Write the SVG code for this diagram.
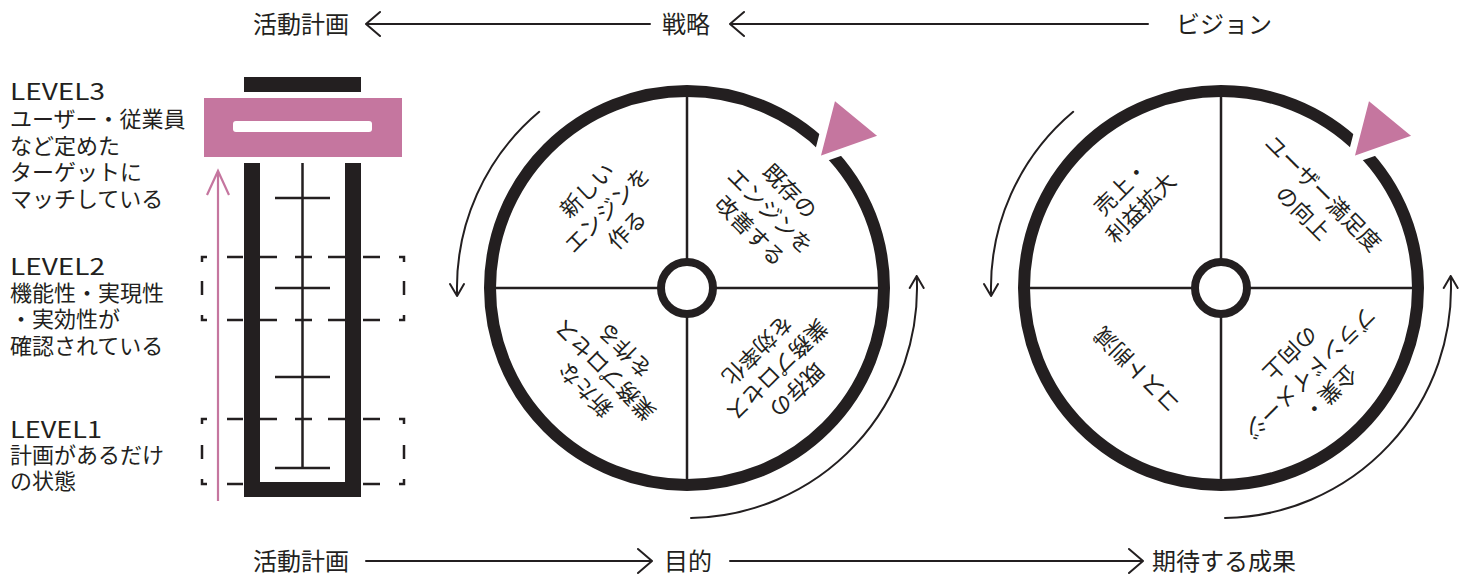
<svg xmlns="http://www.w3.org/2000/svg" width="1473" height="577" viewBox="0 0 1473 577">
  <defs>
    <style>
      .t{font-family:"Noto Sans CJK JP","Noto Sans",sans-serif;fill:#231f20}
      .lbl{font-size:22px}
      .lv{font-size:23px}
      .cap{font-size:24px}
      .q{font-size:22px;text-anchor:middle}
      .ln{stroke:#231f20;stroke-width:2.5;fill:none}
      .thin{stroke:#231f20;stroke-width:2;fill:none;stroke-linecap:round;stroke-linejoin:round}
      .dash{stroke:#231f20;stroke-width:2.5;fill:none}
      .ring{fill:none;stroke:#231f20;stroke-width:12}
      .hub{fill:#fff;stroke:#231f20;stroke-width:8}
      .bar{fill:#231f20}
      .pink{fill:#c5769f}
      .tri{fill:#c5769f;stroke:#fff;stroke-width:7;stroke-linejoin:miter}
    </style>
  </defs>
  <rect width="1473" height="577" fill="#fff"/>

  <!-- level descriptions -->
  <g id="level3-label">
    <text class="t lbl"><tspan class="lv" x="10" y="100" textLength="95" lengthAdjust="spacingAndGlyphs">LEVEL3</tspan><tspan x="10" y="127">ユーザー・従業員</tspan><tspan x="10" y="153.5">など定めた</tspan><tspan x="10" y="180">ターゲットに</tspan><tspan x="10" y="206.5">マッチしている</tspan></text>
  </g>
  <g id="level2-label">
    <text class="t lbl"><tspan class="lv" x="10" y="275" textLength="95" lengthAdjust="spacingAndGlyphs">LEVEL2</tspan><tspan x="10" y="301">機能性・実現性</tspan><tspan x="10" y="327">・実効性が</tspan><tspan x="10" y="354">確認されている</tspan></text>
  </g>
  <g id="level1-label">
    <text class="t lbl"><tspan class="lv" x="10" y="438" textLength="92" lengthAdjust="spacingAndGlyphs">LEVEL1</tspan><tspan x="10" y="463">計画があるだけ</tspan><tspan x="10" y="489">の状態</tspan></text>
  </g>

  <!-- level gauge -->
  <g id="gauge">
    <path class="dash" d="M202,262V257H207 M227,257H243 M260,257H277 M295,257H312 M328,257H345 M363,257H380 M399,257H404V262 M202,281V295 M404,281V295 M202,315V320H207 M227,320H243 M260,320H277 M295,320H312 M328,320H345 M363,320H380 M399,320H404V315"/>
    <path class="dash" d="M202,424V419H207 M227,419H243 M260,419H277 M295,419H312 M328,419H345 M363,419H380 M399,419H404V424 M202,445V459 M404,445V459 M202,479V484H207 M227,484H243 M260,484H277 M295,484H312 M328,484H345 M363,484H380 M399,484H404V479"/>
    <rect class="bar" x="244" y="77" width="117" height="15"/>
    <rect class="pink" x="204" y="98" width="198" height="59"/>
    <rect x="233" y="121" width="139" height="11" rx="3" fill="#fff"/>
    <path class="bar" d="M244,163H260V482H345V163H361V497H244Z"/>
    <path class="ln" d="M302.5,163V468 M275,198H330 M275,288H330 M275,377H330 M275,468H330"/>
    <path d="M218,501V172 M207,195L218,171L229,195" fill="none" stroke="#c5769f" stroke-width="2.2"/>
  </g>

  <!-- strategy wheel -->
  <g id="wheel-strategy" transform="translate(687,288)">
    <circle class="ring" r="197"/>
    <polygon class="tri" points="129,-127 146,-193 197,-151"/>
    <path class="ln" d="M0,-192V192 M-192,0H192"/>
    <circle class="hub" r="26"/>
  </g>
  <g id="q-new-engine" class="t q" transform="translate(607,210) rotate(-45)">
    <text y="-20">新しい</text>
    <text y="8">エンジンを</text>
    <text y="36">作る</text>
  </g>
  <g id="q-improve-engine" class="t q" transform="translate(770,211) rotate(45)">
    <text y="-20">既存の</text>
    <text y="8">エンジンを</text>
    <text y="36">改善する</text>
  </g>
  <g id="q-new-process" class="t q" transform="translate(605,370) rotate(-135)">
    <text y="-20">新たな</text>
    <text y="8">業務プロセス</text>
    <text y="36">を作る</text>
  </g>
  <g id="q-efficient-process" class="t q" transform="translate(777,370) rotate(135)">
    <text y="-20">既存の</text>
    <text y="8">業務プロセス</text>
    <text y="36">を効率化</text>
  </g>

  <!-- outcome wheel -->
  <g id="wheel-outcome" transform="translate(1221,288)">
    <circle class="ring" r="197"/>
    <polygon class="tri" points="129,-127 146,-193 197,-151"/>
    <path class="ln" d="M0,-192V192 M-192,0H192"/>
    <circle class="hub" r="26"/>
  </g>
  <g id="q-revenue" class="t q" transform="translate(1131,198) rotate(-45)">
    <text y="-6">売上・</text>
    <text y="22">利益拡大</text>
  </g>
  <g id="q-satisfaction" class="t q" transform="translate(1313,203) rotate(45)">
    <text y="-6">ユーザー満足度</text>
    <text y="22">の向上</text>
  </g>
  <g id="q-cost" class="t q" transform="translate(1137,370) rotate(-135)">
    <text y="8">コスト削減</text>
  </g>
  <g id="q-brand" class="t q" transform="translate(1310,373) rotate(135)">
    <text y="-20">企業・</text>
    <text y="8">ブランドイメージ</text>
    <text y="36">の向上</text>
  </g>

  <!-- axis captions -->
  <g id="cap-top-plan" class="t cap"><text x="253" y="33">活動計画</text></g>
  <g id="cap-top-strategy" class="t cap"><text x="662" y="33">戦略</text></g>
  <g id="cap-top-vision" class="t cap"><text x="1176" y="33">ビジョン</text></g>
  <g id="cap-bottom-plan" class="t cap"><text x="253" y="570">活動計画</text></g>
  <g id="cap-bottom-purpose" class="t cap"><text x="664" y="570">目的</text></g>
  <g id="cap-bottom-result" class="t cap"><text x="1152" y="570">期待する成果</text></g>

  <!-- connectors -->
  <g id="connectors" class="thin">
    <path d="M650,24H367 M380,12L366,24L380,36"/>
    <path d="M1148,24H731 M744,12L730,24L744,36"/>
    <path d="M366,561H651 M638,549L652,561L638,573"/>
    <path d="M730,561H1142 M1129,549L1143,561L1129,573"/>
    <g transform="translate(687,288)">
      <path d="M-147.8,-176.2A230,230 0 0 0 -229.9,8 M-237,-4L-229.9,8L-223,-4"/>
      <path d="M4,230A230,230 0 0 0 229.7,-12 M222.7,0L229.7,-12L236.7,0"/>
    </g>
    <g transform="translate(1221,288)">
      <path d="M-147.8,-176.2A230,230 0 0 0 -229.9,8 M-237,-4L-229.9,8L-223,-4"/>
      <path d="M4,230A230,230 0 0 0 229.7,-12 M222.7,0L229.7,-12L236.7,0"/>
    </g>
  </g>
</svg>
